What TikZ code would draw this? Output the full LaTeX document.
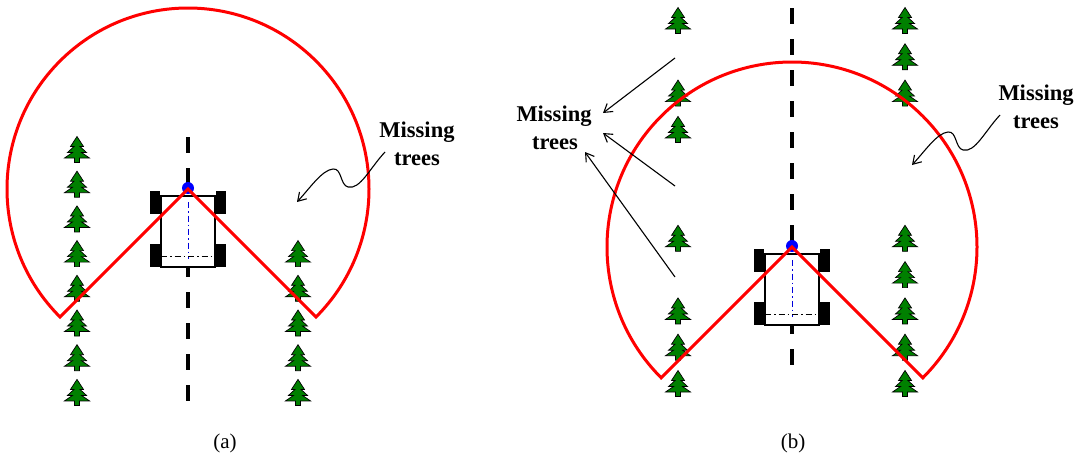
\documentclass[tikz,border=0pt]{standalone}
\usepackage{fontspec}
\setmainfont{Liberation Serif}
\usetikzlibrary{arrows.meta}
\definecolor{treegreen}{RGB}{0,128,0}
\definecolor{scanred}{RGB}{255,0,0}
\definecolor{axisblue}{RGB}{0,0,220}

\tikzset{
  % pine tree marking one plant of a row
  pine/.pic={
    \draw[fill=treegreen, line width=0.7pt, line join=miter]
      (0,-13) -- (6.5,-3) -- (3,-3) -- (9.5,3) -- (4.5,3) -- (12.5,8.5)
      -- (2.5,8.5) -- (2.5,13) -- (-2.5,13) -- (-2.5,8.5) -- (-12.5,8.5)
      -- (-4.5,3) -- (-9.5,3) -- (-3,-3) -- (-6.5,-3) -- cycle;
  },
  % four-wheeled robot seen from above, origin at the scanner
  robot/.pic={
    \fill (-38,2) rectangle (-28,25);
    \fill (-38,55) rectangle (-28,78);
    \fill (28,2) rectangle (38,25);
    \fill (28,55) rectangle (38,78);
    \draw[fill=white, line width=1.3pt] (-27,7) rectangle (27,78);
    \draw[axisblue, line width=1pt, dash pattern=on 6pt off 3pt on 1.5pt off 3pt] (0,13) -- (0,70);
    \draw[line width=1pt, dash pattern=on 6pt off 3pt on 1.5pt off 3pt] (-27,67) -- (27,67);
    \fill[blue] (0,-1) circle (6);
  },
  lane/.style={line width=4pt, dash pattern=on 16pt off 15pt},
  scan/.style={draw=scanred, line width=3pt, line join=miter},
  callout/.style={line width=1.1pt, -{Straight Barb[length=8pt,width=10pt]}},
  lbl/.style={font=\bfseries\fontsize{22.5}{27}\selectfont, inner sep=0pt, anchor=base},
  caption/.style={font=\fontsize{21}{25}\selectfont, inner sep=0pt, anchor=base},
}

\begin{document}
\begin{tikzpicture}[x=1pt, y=-1pt]
  \useasboundingbox (0,0) rectangle (1086,461);

  % ---------- (a) ----------
  \draw[lane] (188,137) -- (188,415);
  \foreach \k in {0,...,7} \pic at (77,{149.5+34.7*\k}) {pine};
  \foreach \k in {3,...,7} \pic at (298,{149.5+34.7*\k}) {pine};
  \coordinate (apexA) at (188,189);
  \pic at (apexA) {robot};
  \draw[scan] (apexA) -- ++(135:181) arc[start angle=135, end angle=405, radius=181] -- cycle;

  \node[lbl] (missA) at (417,137) {Missing};
  \node[lbl] (treesA) at (417,165) {trees};
  \coordinate (fromA) at (385,152);
  \coordinate (gapA) at (297,202);
  \draw[callout] (fromA) .. controls +(-15,16) and +(12,3) .. ++(-37,35)
                 .. controls +(-8,-2) and +(9,-1) .. ++(-15,-18)
                 .. controls +(-11,1) and +(13,-14) .. (gapA);
  \node[caption] (capA) at (225,448) {(a)};

  % ---------- (b) ----------
  \draw[lane] (792,8) -- (792,368);
  \foreach \y in {20.5,93.1,129.4,238.3,310.9,347.2,383.5} \pic at (678,\y) {pine};
  \foreach \y in {20.5,56.8,93.1,238.3,274.6,310.9,347.2,383.5} \pic at (905,\y) {pine};
  \coordinate (apexB) at (792,247);
  \pic at (apexB) {robot};
  \draw[scan] (apexB) -- ++(135:185) arc[start angle=135, end angle=405, radius=185] -- cycle;

  \node[lbl] (missB) at (554,121) {Missing};
  \node[lbl] (treesB) at (555,149) {trees};
  \coordinate (gapB1) at (675,58);
  \coordinate (gapB2) at (675,186);
  \coordinate (gapB3) at (675,277);
  \coordinate (tipB1) at (603,113);
  \coordinate (tipB2) at (603,133);
  \coordinate (tipB3) at (585,152);
  \draw[callout] (gapB1) -- (tipB1);
  \draw[callout] (gapB2) -- (tipB2);
  \draw[callout] (gapB3) -- (tipB3);

  \node[lbl] (missC) at (1036,100) {Missing};
  \node[lbl] (treesC) at (1036,128) {trees};
  \coordinate (fromC) at (1000,115);
  \coordinate (gapC) at (912,165);
  \draw[callout] (fromC) .. controls +(-15,16) and +(12,3) .. ++(-37,35)
                 .. controls +(-8,-2) and +(9,-1) .. ++(-15,-18)
                 .. controls +(-11,1) and +(13,-14) .. (gapC);
  \node[caption] (capB) at (793,448) {(b)};
\end{tikzpicture}
\end{document}
